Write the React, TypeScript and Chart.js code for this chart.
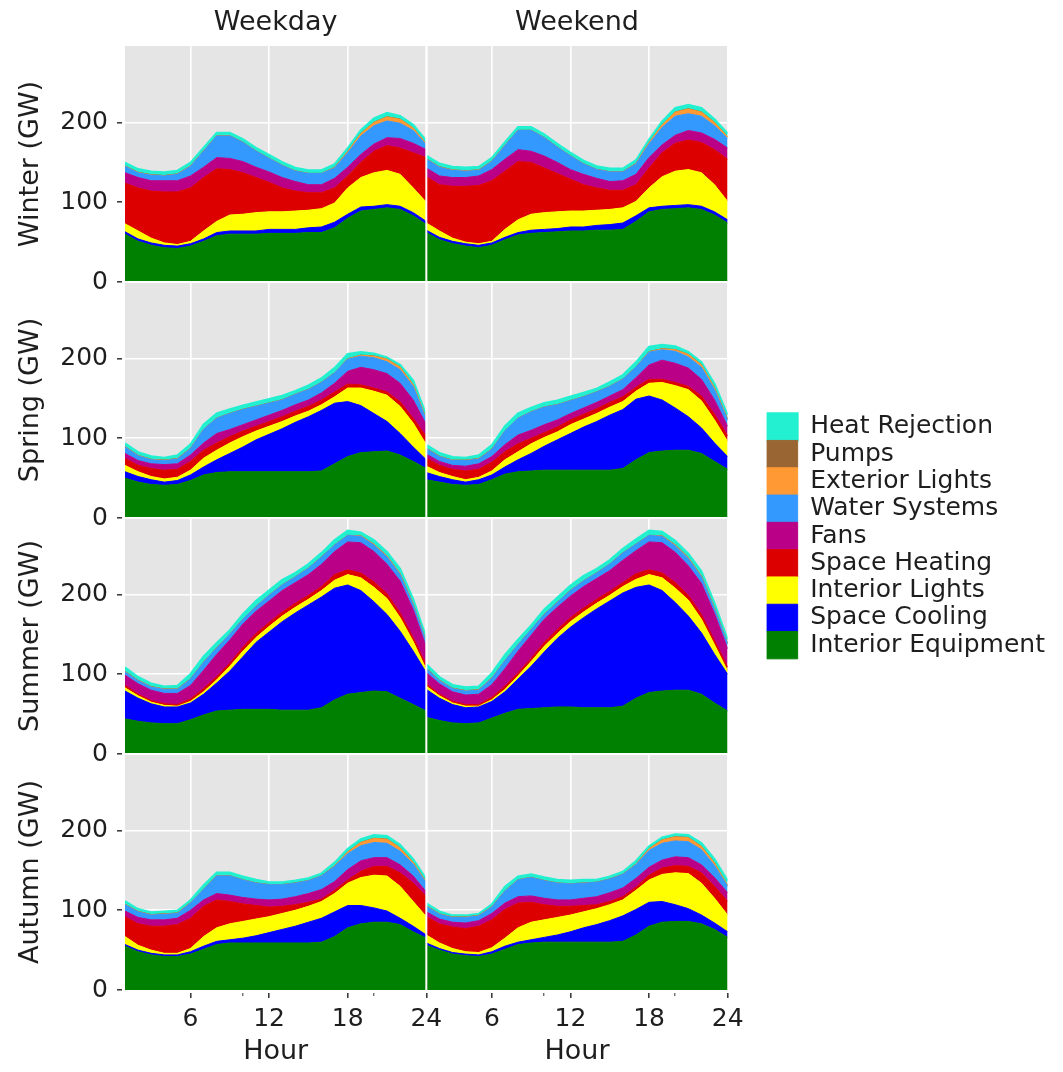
import { useEffect, useRef } from 'react';
import { Chart, registerables } from 'chart.js';

Chart.register(...registerables);

const FONT = "'DejaVu Sans', sans-serif";
const TEXT = '#1E1E1E';
const PANEL_BG = '#E5E5E5';

const HOURS = [1, 2, 3, 4, 5, 6, 7, 8, 9, 10, 11, 12, 13, 14, 15, 16, 17, 18, 19, 20, 21, 22, 23, 24];
const SERIES = ['Interior Equipment', 'Space Cooling', 'Interior Lights', 'Space Heating', 'Fans', 'Water Systems', 'Exterior Lights', 'Pumps', 'Heat Rejection'];
const COLORS = ['#008000', '#0000FF', '#FFFF00', '#DD0000', '#BB0088', '#3399FF', '#FF9933', '#996633', '#22F0D0'];
const SEASONS = ['Winter', 'Spring', 'Summer', 'Autumn'];
const DAY_TYPES = ['Weekday', 'Weekend'];
const Y_TICKS = [0, 100, 200];
const X_MAJOR = [6, 12, 18, 24];
const X_MINOR = [10, 20];
const Y_MAX = 296;

// Each panel: arrays in SERIES order (GW per hour 1..24)
const WINTER_WEEKDAY = [
  [60, 51, 46, 43, 42, 45, 51, 58, 60, 60, 60, 61, 61, 61, 62, 62, 68, 80, 89, 91, 93, 91, 83, 72],
  [3, 3, 3, 3, 3, 3, 3, 4, 4, 4, 4, 5, 5, 5, 6, 7, 7, 5, 5, 4, 4, 4, 4, 4],
  [10, 10, 6, 3, 2, 3, 10, 14, 20, 21, 23, 22, 22, 23, 22, 23, 24, 33, 37, 42, 43, 40, 31, 24],
  [51, 54, 59, 64, 66, 67, 67, 66, 57, 52, 44, 37, 30, 25, 22, 20, 19, 15, 19, 27, 31, 33, 44, 56],
  [13, 13, 13, 14, 14, 15, 13, 14, 14, 14, 13, 13, 13, 12, 10, 10, 12, 11, 10, 9, 10, 12, 12, 10],
  [8, 6, 7, 6, 8, 12, 20, 27, 28, 24, 20, 17, 15, 13, 14, 14, 13, 18, 23, 23, 21, 19, 16, 6],
  [0.3, 0.3, 0.3, 0.3, 0.3, 0.3, 0.2, 0, 0, 0, 0, 0, 0, 0, 0, 0, 0.5, 1.5, 3, 4, 5, 5, 3, 1],
  [0.3, 0.3, 0.3, 0.3, 0.3, 0.3, 0.3, 0.3, 0.3, 0.3, 0.3, 0.3, 0.3, 0.3, 0.3, 0.3, 0.3, 0.3, 0.3, 0.3, 0.3, 0.3, 0.3, 0.3],
  [4, 4, 4, 4, 4, 4, 4, 4, 4, 4, 4, 4, 4, 4, 4, 4, 4, 4, 4, 5, 5, 4, 4, 4],
];
const WINTER_WEEKEND = [
  [62, 53, 48, 45, 43, 46, 53, 59, 61, 62, 63, 64, 64, 65, 65, 66, 76, 88, 91, 92, 93, 91, 84, 74],
  [3, 3, 3, 3, 3, 3, 3, 3, 4, 4, 4, 5, 5, 6, 7, 8, 7, 5, 4, 4, 4, 4, 4, 4],
  [9, 8, 4, 2, 2, 2, 10, 16, 20, 21, 21, 20, 20, 19, 19, 19, 18, 25, 37, 43, 44, 42, 34, 23],
  [58, 58, 65, 70, 73, 76, 73, 73, 65, 56, 48, 40, 33, 28, 24, 22, 21, 25, 30, 35, 37, 38, 44, 53],
  [11, 11, 11, 11, 12, 14, 15, 15, 14, 15, 14, 12, 13, 12, 11, 12, 13, 13, 10, 10, 12, 12, 13, 14],
  [11, 11, 9, 8, 7, 10, 17, 24, 26, 23, 19, 17, 13, 11, 12, 11, 13, 17, 22, 24, 21, 21, 17, 12],
  [0.3, 0.3, 0.3, 0.3, 0.3, 0.3, 0.2, 0, 0, 0, 0, 0, 0, 0, 0, 0, 0.5, 1.5, 3, 5, 6, 5, 4, 2],
  [0.3, 0.3, 0.3, 0.3, 0.3, 0.3, 0.3, 0.3, 0.3, 0.3, 0.3, 0.3, 0.3, 0.3, 0.3, 0.3, 0.3, 0.3, 0.3, 0.3, 0.3, 0.3, 0.3, 0.3],
  [4, 4, 4, 4, 4, 4, 4, 4, 4, 4, 4, 4, 4, 4, 4, 4, 4, 4, 4, 5, 5, 5, 4, 4],
];
const SPRING_WEEKDAY = [
  [50, 45, 42, 41, 42, 47, 54, 57, 58, 58, 58, 58, 58, 58, 58, 59, 68, 77, 82, 83, 84, 79, 71, 62],
  [8, 7, 6, 4, 5, 7, 10, 16, 23, 31, 40, 47, 54, 62, 69, 76, 76, 69, 59, 48, 37, 27, 18, 11],
  [8, 6, 4, 4, 4, 6, 11, 12, 13, 13, 11, 10, 9, 8, 7, 7, 8, 17, 22, 28, 33, 34, 30, 19],
  [9, 8, 10, 11, 10, 11, 10, 9, 8, 7, 6, 6, 6, 6, 6, 6, 6, 5, 4, 4, 4, 6, 6, 10],
  [6, 6, 6, 7, 7, 8, 9, 12, 9, 8, 8, 8, 8, 8, 8, 9, 11, 16, 22, 23, 23, 23, 23, 15],
  [8, 6, 5, 5, 6, 8, 17, 19, 20, 19, 17, 15, 13, 13, 13, 13, 13, 15, 14, 15, 15, 17, 17, 6],
  [0.3, 0.3, 0.3, 0.3, 0.3, 0.2, 0, 0, 0, 0, 0, 0, 0, 0, 0, 0, 0, 0.5, 1, 2, 3, 3, 2, 1],
  [0.3, 0.3, 0.3, 0.3, 0.3, 0.3, 0.3, 0.3, 0.3, 0.3, 0.3, 0.3, 0.3, 0.3, 0.3, 0.3, 0.3, 0.3, 0.3, 0.3, 0.3, 0.3, 0.3, 0.3],
  [4, 4, 4, 3, 4, 5, 6, 6, 5, 5, 5, 5, 5, 4, 5, 5, 6, 6, 4, 3, 2, 3, 5, 5],
];
const SPRING_WEEKEND = [
  [48, 45, 42, 41, 42, 48, 55, 58, 59, 60, 60, 60, 60, 60, 60, 62, 73, 82, 84, 85, 85, 81, 71, 61],
  [9, 7, 6, 4, 6, 6, 9, 15, 22, 30, 38, 46, 54, 61, 69, 74, 76, 71, 64, 53, 42, 32, 23, 16],
  [8, 5, 4, 3, 3, 5, 9, 10, 12, 11, 10, 11, 10, 10, 10, 10, 10, 16, 22, 28, 34, 34, 29, 19],
  [10, 9, 9, 11, 10, 11, 10, 10, 7, 6, 6, 6, 6, 6, 6, 6, 5, 5, 4, 4, 4, 6, 7, 7],
  [5, 5, 5, 6, 7, 7, 9, 11, 10, 10, 9, 8, 8, 8, 8, 9, 12, 18, 24, 24, 23, 21, 18, 12],
  [7, 6, 6, 7, 6, 9, 17, 21, 23, 22, 19, 16, 14, 13, 12, 13, 13, 16, 13, 15, 14, 15, 13, 8],
  [0.3, 0.3, 0.3, 0.3, 0.3, 0.2, 0, 0, 0, 0, 0, 0, 0, 0, 0, 0, 0, 0.5, 1, 2, 3, 3, 2, 1],
  [0.3, 0.3, 0.3, 0.3, 0.3, 0.3, 0.3, 0.3, 0.3, 0.3, 0.3, 0.3, 0.3, 0.3, 0.3, 0.3, 0.3, 0.3, 0.3, 0.3, 0.3, 0.3, 0.3, 0.3],
  [4, 4, 4, 3, 4, 5, 6, 6, 5, 5, 5, 5, 5, 4, 5, 5, 6, 6, 5, 4, 3, 3, 5, 5],
];
const SUMMER_WEEKDAY = [
  [44, 41, 39, 38, 38, 43, 49, 54, 55, 56, 56, 56, 55, 55, 55, 58, 68, 75, 77, 79, 78, 70, 62, 54],
  [35, 29, 24, 21, 21, 21, 26, 35, 49, 66, 84, 97, 111, 122, 132, 139, 140, 137, 128, 112, 97, 84, 67, 48],
  [4, 3, 2, 2, 1, 2, 3, 4, 6, 7, 6, 7, 7, 7, 7, 8, 10, 13, 16, 18, 20, 17, 12, 4],
  [3, 2, 2, 2, 2, 3, 4, 4, 4, 5, 5, 5, 5, 5, 5, 5, 7, 6, 6, 7, 6, 6, 5, 5],
  [13, 13, 13, 13, 14, 17, 23, 28, 29, 29, 28, 27, 27, 26, 26, 28, 29, 35, 38, 38, 37, 40, 35, 23],
  [4, 4, 4, 5, 5, 8, 10, 8, 7, 6, 6, 7, 7, 7, 8, 9, 8, 8, 8, 8, 9, 8, 6, 6],
  [0.3, 0.3, 0.3, 0.3, 0.3, 0.2, 0, 0, 0, 0, 0, 0, 0, 0, 0, 0, 0, 0, 0.5, 1, 1, 1, 1, 0.5],
  [0.3, 0.3, 0.3, 0.3, 0.3, 0.3, 0.3, 0.3, 0.3, 0.3, 0.3, 0.3, 0.3, 0.3, 0.3, 0.3, 0.3, 0.3, 0.3, 0.3, 0.3, 0.3, 0.3, 0.3],
  [5, 4, 4, 3, 4, 6, 7, 6, 5, 6, 7, 6, 6, 5, 5, 5, 6, 6, 4, 5, 5, 6, 6, 5],
];
const SUMMER_WEEKEND = [
  [46, 42, 39, 38, 39, 45, 51, 56, 57, 58, 59, 59, 58, 58, 58, 60, 70, 77, 79, 80, 80, 75, 64, 54],
  [35, 28, 23, 20, 20, 21, 27, 38, 53, 70, 86, 100, 113, 124, 134, 142, 139, 135, 126, 110, 93, 77, 61, 46],
  [4, 3, 2, 2, 1, 2, 3, 4, 6, 7, 6, 7, 7, 7, 7, 8, 10, 13, 16, 18, 20, 17, 12, 4],
  [3, 2, 2, 2, 2, 3, 4, 4, 4, 5, 5, 5, 5, 5, 5, 5, 7, 6, 6, 7, 6, 6, 5, 5],
  [14, 13, 12, 12, 13, 16, 22, 27, 29, 29, 28, 27, 27, 26, 26, 28, 29, 35, 38, 38, 37, 39, 34, 23],
  [5, 4, 4, 5, 5, 8, 10, 8, 7, 6, 6, 7, 7, 7, 8, 9, 8, 8, 8, 8, 9, 8, 6, 6],
  [0.3, 0.3, 0.3, 0.3, 0.3, 0.2, 0, 0, 0, 0, 0, 0, 0, 0, 0, 0, 0, 0, 0.5, 1, 1, 1, 1, 0.5],
  [0.3, 0.3, 0.3, 0.3, 0.3, 0.3, 0.3, 0.3, 0.3, 0.3, 0.3, 0.3, 0.3, 0.3, 0.3, 0.3, 0.3, 0.3, 0.3, 0.3, 0.3, 0.3, 0.3, 0.3],
  [5, 4, 4, 4, 4, 6, 7, 6, 5, 6, 6, 6, 6, 5, 5, 5, 6, 6, 5, 5, 5, 6, 6, 5],
];
const AUTUMN_WEEKDAY = [
  [55, 48, 44, 42, 42, 45, 51, 57, 59, 59, 59, 59, 59, 59, 59, 60, 67, 78, 83, 85, 85, 82, 73, 65],
  [2, 2, 2, 2, 2, 3, 4, 4, 4, 6, 9, 13, 17, 21, 26, 30, 31, 28, 23, 18, 14, 8, 7, 4],
  [10, 6, 4, 2, 2, 4, 12, 17, 20, 21, 21, 20, 20, 20, 20, 21, 23, 28, 35, 41, 44, 40, 31, 23],
  [25, 27, 30, 34, 36, 38, 38, 35, 28, 22, 17, 12, 9, 7, 5, 3, 4, 4, 8, 11, 12, 17, 23, 25],
  [7, 8, 8, 8, 8, 10, 8, 8, 8, 8, 8, 9, 9, 10, 11, 12, 11, 13, 13, 11, 11, 10, 9, 6],
  [8, 7, 6, 7, 6, 9, 13, 22, 24, 22, 20, 19, 18, 17, 16, 17, 19, 20, 19, 19, 18, 17, 15, 11],
  [0.3, 0.3, 0.3, 0.3, 0.3, 0.3, 0.2, 0, 0, 0, 0, 0, 0, 0, 0, 0, 0.5, 2, 4, 5, 5, 4, 2, 1],
  [0.3, 0.3, 0.3, 0.3, 0.3, 0.3, 0.3, 0.3, 0.3, 0.3, 0.3, 0.3, 0.3, 0.3, 0.3, 0.3, 0.3, 0.3, 0.3, 0.3, 0.3, 0.3, 0.3, 0.3],
  [4, 3, 3, 3, 3, 3, 5, 4, 4, 4, 4, 3, 3, 3, 3, 3, 4, 4, 4, 4, 4, 4, 4, 4],
];
const AUTUMN_WEEKEND = [
  [56, 50, 45, 43, 42, 45, 51, 57, 59, 60, 60, 60, 60, 60, 60, 61, 69, 80, 85, 86, 86, 83, 76, 66],
  [3, 2, 2, 2, 2, 3, 4, 3, 4, 6, 9, 13, 18, 22, 27, 32, 32, 30, 26, 21, 16, 11, 8, 7],
  [10, 7, 5, 3, 3, 5, 10, 18, 22, 22, 22, 21, 20, 20, 20, 20, 24, 28, 34, 40, 44, 40, 31, 21],
  [23, 24, 27, 29, 33, 35, 36, 31, 25, 19, 14, 11, 8, 5, 4, 4, 4, 6, 8, 9, 9, 13, 15, 17],
  [6, 6, 6, 7, 7, 8, 8, 8, 8, 8, 8, 8, 9, 10, 11, 11, 11, 10, 10, 11, 11, 10, 11, 11],
  [7, 6, 6, 7, 6, 8, 15, 21, 23, 22, 21, 20, 19, 18, 17, 17, 17, 21, 21, 20, 20, 19, 15, 8],
  [0.3, 0.3, 0.3, 0.3, 0.3, 0.3, 0.2, 0, 0, 0, 0, 0, 0, 0, 0, 0, 0.5, 2, 4, 5, 5, 4, 3, 1],
  [0.3, 0.3, 0.3, 0.3, 0.3, 0.3, 0.3, 0.3, 0.3, 0.3, 0.3, 0.3, 0.3, 0.3, 0.3, 0.3, 0.3, 0.3, 0.3, 0.3, 0.3, 0.3, 0.3, 0.3],
  [3, 3, 2, 2, 2, 3, 5, 4, 4, 4, 4, 4, 4, 3, 3, 3, 4, 3, 3, 3, 3, 4, 5, 6],
];

const PANELS = [
  [WINTER_WEEKDAY, WINTER_WEEKEND],
  [SPRING_WEEKDAY, SPRING_WEEKEND],
  [SUMMER_WEEKDAY, SUMMER_WEEKEND],
  [AUTUMN_WEEKDAY, AUTUMN_WEEKEND],
];

const X_IDS = ['xA', 'xB'];
const TOP_IDS = ['tA', 'tB'];
const Y_IDS = ['y0', 'y1', 'y2', 'y3'];

const panelPlugin = {
  id: 'panelPlugin',
  beforeDraw(chart: any) {
    const { ctx, chartArea } = chart;
    ctx.save();
    ctx.fillStyle = PANEL_BG;
    ctx.fillRect(chartArea.left, chartArea.top, chartArea.right - chartArea.left, chartArea.bottom - chartArea.top);
    ctx.restore();
  },
  afterDatasetsDraw(chart: any) {
    const { ctx, chartArea } = chart;
    ctx.save();
    ctx.strokeStyle = '#FFFFFF';
    ctx.lineWidth = 2;
    ctx.beginPath();
    const xs = chart.scales.xA.right;
    ctx.moveTo(xs, chartArea.top);
    ctx.lineTo(xs, chartArea.bottom);
    for (let r = 0; r < Y_IDS.length - 1; r++) {
      const yb = chart.scales[Y_IDS[r]].bottom;
      ctx.moveTo(chartArea.left, yb);
      ctx.lineTo(chartArea.right, yb);
    }
    ctx.stroke();
    ctx.restore();
  },
};

export default function App() {
  const canvasRef = useRef<HTMLCanvasElement | null>(null);

  useEffect(() => {
    const canvas = canvasRef.current;
    if (!canvas) return;

    const datasets: any[] = [];
    PANELS.forEach((row, r) => {
      row.forEach((panel, c) => {
        SERIES.forEach((name, s) => {
          datasets.push({
            label: name,
            data: HOURS.map((h, i) => ({ x: h, y: panel[s][i] })),
            xAxisID: X_IDS[c],
            yAxisID: Y_IDS[r],
            backgroundColor: COLORS[s],
            borderColor: COLORS[s],
            borderWidth: s === SERIES.length - 1 ? 2 : 1,
            pointRadius: 0,
            pointHoverRadius: 0,
            tension: 0,
            fill: s === 0 ? 'origin' : '-1',
          });
        });
      });
    });

    const scales: any = {};
    Y_IDS.forEach((id, r) => {
      scales[id] = {
        type: 'linear',
        position: 'left',
        stack: 'rows',
        stackWeight: 1,
        weight: 10 - r,
        stacked: true,
        min: 0,
        max: Y_MAX,
        afterBuildTicks: (s: any) => {
          s.ticks = Y_TICKS.map((v) => ({ value: v }));
        },
        afterFit: (s: any) => {
          s.width = 117;
        },
        ticks: { font: { family: FONT, size: 25 }, color: TEXT, padding: 9, autoSkip: false },
        grid: {
          color: '#FFFFFF',
          lineWidth: 1.6,
          tickColor: '#333333',
          tickWidth: 1.5,
          tickLength: 8,
          tickBorderDash: [5, 50],
        },
        border: { display: false },
        title: {
          display: true,
          text: `${SEASONS[r]} (GW)`,
          font: { family: FONT, size: 27, lineHeight: 1.2 },
          color: TEXT,
          padding: { top: 6.5, bottom: 0 },
        },
      };
    });
    X_IDS.forEach((id, c) => {
      scales[id] = {
        type: 'linear',
        position: 'bottom',
        stack: 'cols',
        stackWeight: 1,
        weight: c + 1,
        min: 1,
        max: 24,
        afterBuildTicks: (s: any) => {
          s.ticks = [...X_MAJOR, ...X_MINOR].sort((a, b) => a - b).map((v) => ({ value: v }));
        },
        afterFit: (s: any) => {
          s.height = 74;
        },
        ticks: {
          font: { family: FONT, size: 25 },
          color: TEXT,
          padding: 6,
          autoSkip: false,
          maxRotation: 0,
          callback: (v: number) => (X_MAJOR.includes(v) ? String(v) : ''),
        },
        grid: {
          color: (ctx: any) => (ctx.tick && X_MAJOR.includes(ctx.tick.value) ? '#FFFFFF' : 'rgba(0,0,0,0)'),
          lineWidth: 1.6,
          tickColor: '#333333',
          tickWidth: (ctx: any) => (ctx.tick && X_MAJOR.includes(ctx.tick.value) ? 1.5 : 1),
          tickLength: 8,
          tickBorderDash: (ctx: any) => (ctx.tick && X_MAJOR.includes(ctx.tick.value) ? [0, 3, 5, 50] : [0, 3, 3, 50]),
        },
        border: { display: false },
        title: {
          display: true,
          text: 'Hour',
          font: { family: FONT, size: 27, lineHeight: 0.9 },
          color: TEXT,
          padding: { top: 0, bottom: 0 },
        },
      };
    });
    TOP_IDS.forEach((id, c) => {
      scales[id] = {
        type: 'linear',
        position: 'top',
        stack: 'colsTop',
        stackWeight: 1,
        weight: 2 - c,
        min: 0,
        max: 1,
        display: true,
        afterFit: (s: any) => {
          s.height = 38;
        },
        ticks: { display: false },
        grid: { display: false, drawTicks: false },
        border: { display: false },
        title: {
          display: true,
          text: DAY_TYPES[c],
          font: { family: FONT, size: 27, lineHeight: 1 },
          color: TEXT,
          padding: { top: 1.5, bottom: 0 },
        },
      };
    });
    scales.rPad = {
      type: 'linear',
      position: 'right',
      axis: 'y',
      min: 0,
      max: 1,
      display: true,
      weight: 0,
      afterFit: (s: any) => {
        s.width = 39;
      },
      ticks: { display: false },
      grid: { display: false, drawTicks: false },
      border: { display: false },
    };

    const chart = new Chart(canvas, {
      type: 'line',
      data: { datasets },
      options: {
        animation: false,
        responsive: false,
        devicePixelRatio: 1,
        events: [],
        layout: { padding: { left: 0, top: 0, bottom: 0, right: 0 } },
        scales,
        plugins: {
          tooltip: { enabled: false },
          title: { display: false },
          legend: {
            display: true,
            position: 'right',
            align: 'center',
            reverse: true,
            maxWidth: 400,
            labels: {
              boxWidth: 31,
              boxHeight: 27.3,
              padding: 0,
              color: TEXT,
              font: { family: FONT, size: 25 },
              filter: (item: any) => item.datasetIndex < SERIES.length,
            },
          },
        },
      } as any,
      plugins: [panelPlugin],
    });

    return () => {
      chart.destroy();
    };
  }, []);

  return (
    <div style={{ width: 1047, height: 1056, position: 'relative' }}>
      <canvas ref={canvasRef} width={1047} height={1056} style={{ display: 'block', width: 1047, height: 1056 }} />
    </div>
  );
}
